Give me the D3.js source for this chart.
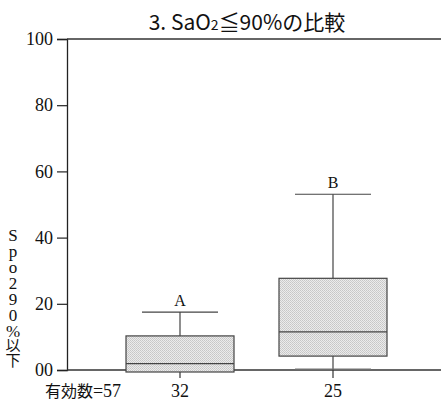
<!DOCTYPE html>
<html>
<head>
<meta charset="utf-8">
<script src="https://cdn.jsdelivr.net/npm/d3@7"></script>
<style>
  body { margin: 0; background: #fff; }
  svg { display: block; }
  .serif { font-family: "Liberation Serif", "Times New Roman", "DejaVu Serif", serif; }
  .jp { font-family: "Noto Sans CJK JP", "Noto Sans", sans-serif; }
</style>
</head>
<body>
<div id="chart"></div>
<script>
// values (SpO2 90% 以下 の割合)
const groups = ['A', 'B'];
const counts = ['32', '25'];
const whiskerLow = [0, 0];
const q1 = [0, 4.2];
const median = [1.9, 11.5];
const q3 = [10.3, 27.7];
const whiskerHigh = [17.5, 53.1];
const yTicks = [0, 20, 40, 60, 80, 100];
const yTickLabels = ['00', '20', '40', '60', '80', '100'];
const yLabelLatin = 'Spo290%';
const yLabelJp = '以下';

const width = 441, height = 401;
const margin = { top: 39, right: 0, bottom: 31, left: 67 };

const svg = d3.select('#chart')
  .append('svg')
  .attr('width', width)
  .attr('height', height);

// stipple fill for the boxes
const pat = svg.append('defs')
  .append('pattern')
  .attr('id', 'stipple')
  .attr('width', 2)
  .attr('height', 2)
  .attr('patternUnits', 'userSpaceOnUse');
pat.append('rect').attr('width', 2).attr('height', 2).attr('fill', '#ebebeb');
pat.append('rect').attr('width', 1).attr('height', 1).attr('fill', '#c6c6c6');
pat.append('rect').attr('x', 1).attr('y', 1).attr('width', 1).attr('height', 1).attr('fill', '#cdcdcd');

const y = d3.scaleLinear()
  .domain([0, 100])
  .range([height - margin.bottom, margin.top]);

const x = d3.scalePoint()
  .domain(groups)
  .range([180, 333]);

const boxW = 108, capW = 76;

// title
svg.append('text')
  .attr('class', 'jp')
  .attr('x', 247)
  .attr('y', 30)
  .attr('text-anchor', 'middle')
  .attr('font-size', 21)
  .attr('fill', '#111')
  .call(t => {
    t.append('tspan').text('3. SaO');
    t.append('tspan').attr('font-size', 14).text('2');
    t.append('tspan').text('≦90%の比較');
  });

// y axis
const yAxis = svg.append('g')
  .attr('transform', `translate(${margin.left},0)`)
  .call(d3.axisLeft(y)
    .tickValues(yTicks)
    .tickFormat((d, i) => yTickLabels[i])
    .tickSize(10)
    .tickPadding(4));
yAxis.attr('font-family', null).attr('font-size', null);
yAxis.select('.domain').attr('stroke', '#222').attr('stroke-width', 1.3);
yAxis.selectAll('.tick line').attr('stroke', '#222').attr('stroke-width', 1.2);
yAxis.selectAll('.tick text')
  .attr('class', 'serif')
  .attr('font-size', 18)
  .attr('fill', '#111');

// top frame line
svg.append('line')
  .attr('x1', margin.left).attr('x2', width)
  .attr('y1', y(100)).attr('y2', y(100))
  .attr('stroke', '#333').attr('stroke-width', 1.3);

// x axis
svg.append('line')
  .attr('x1', margin.left).attr('x2', width)
  .attr('y1', y(0)).attr('y2', y(0))
  .attr('stroke', '#333').attr('stroke-width', 1.3);

svg.selectAll('.xtick')
  .data(groups)
  .join('line')
  .attr('class', 'xtick')
  .attr('x1', d => x(d)).attr('x2', d => x(d))
  .attr('y1', y(0)).attr('y2', y(0) + 8)
  .attr('stroke', '#333').attr('stroke-width', 1.2);

svg.selectAll('.xlabel')
  .data(counts)
  .join('text')
  .attr('class', 'serif')
  .attr('x', (d, i) => x(groups[i]))
  .attr('y', 397)
  .attr('text-anchor', 'middle')
  .attr('font-size', 18)
  .attr('fill', '#111')
  .text(d => d);

svg.append('text')
  .attr('class', 'serif')
  .attr('x', 83)
  .attr('y', 397)
  .attr('text-anchor', 'middle')
  .attr('font-size', 18)
  .attr('fill', '#111')
  .call(t => {
    t.append('tspan').attr('class', 'jp').attr('font-size', 16).text('有効数');
    t.append('tspan').text('=57');
  });

// y label, written top to bottom
svg.append('text')
  .attr('class', 'serif')
  .attr('x', 13)
  .attr('y', 226)
  .attr('font-size', 17)
  .attr('fill', '#111')
  .style('writing-mode', 'vertical-rl')
  .style('text-orientation', 'upright')
  .call(t => {
    t.append('tspan').style('letter-spacing', '-3px').text(yLabelLatin);
    t.append('tspan').attr('class', 'jp').attr('font-size', 15).text(yLabelJp);
  });

// boxes
const box = svg.append('g')
  .selectAll('g')
  .data(groups)
  .join('g');

// whiskers
box.append('line')
  .attr('x1', d => x(d)).attr('x2', d => x(d))
  .attr('y1', (d, i) => y(q3[i])).attr('y2', (d, i) => y(whiskerHigh[i]))
  .attr('stroke', '#444').attr('stroke-width', 1.2);
box.append('line')
  .attr('x1', d => x(d)).attr('x2', d => x(d))
  .attr('y1', (d, i) => y(q1[i])).attr('y2', (d, i) => y(whiskerLow[i]))
  .attr('stroke', '#444').attr('stroke-width', 1.2);

// caps
box.append('line')
  .attr('x1', d => x(d) - capW / 2).attr('x2', d => x(d) + capW / 2)
  .attr('y1', (d, i) => y(whiskerHigh[i])).attr('y2', (d, i) => y(whiskerHigh[i]))
  .attr('stroke', '#444').attr('stroke-width', 1.2);
box.filter((d, i) => whiskerLow[i] < q1[i])
  .append('line')
  .attr('x1', d => x(d) - capW / 2).attr('x2', d => x(d) + capW / 2)
  .attr('y1', y(0) - 1).attr('y2', y(0) - 1)
  .attr('stroke', '#777').attr('stroke-width', 1.2);

box.append('rect')
  .attr('x', d => x(d) - boxW / 2)
  .attr('width', boxW)
  .attr('y', (d, i) => y(q3[i]))
  .attr('height', (d, i) => y(q1[i]) - y(q3[i]) + (q1[i] === 0 ? 2 : 0))
  .attr('fill', 'url(#stipple)')
  .attr('stroke', '#444')
  .attr('stroke-width', 1.2);

box.append('line')
  .attr('x1', d => x(d) - boxW / 2).attr('x2', d => x(d) + boxW / 2)
  .attr('y1', (d, i) => y(median[i])).attr('y2', (d, i) => y(median[i]))
  .attr('stroke', '#444').attr('stroke-width', 1.2);

// group letters
box.append('text')
  .attr('class', 'serif')
  .attr('x', d => x(d))
  .attr('y', (d, i) => y(whiskerHigh[i]) - 6)
  .attr('text-anchor', 'middle')
  .attr('font-size', 16)
  .attr('fill', '#111')
  .text(d => d);
</script>
</body>
</html>
